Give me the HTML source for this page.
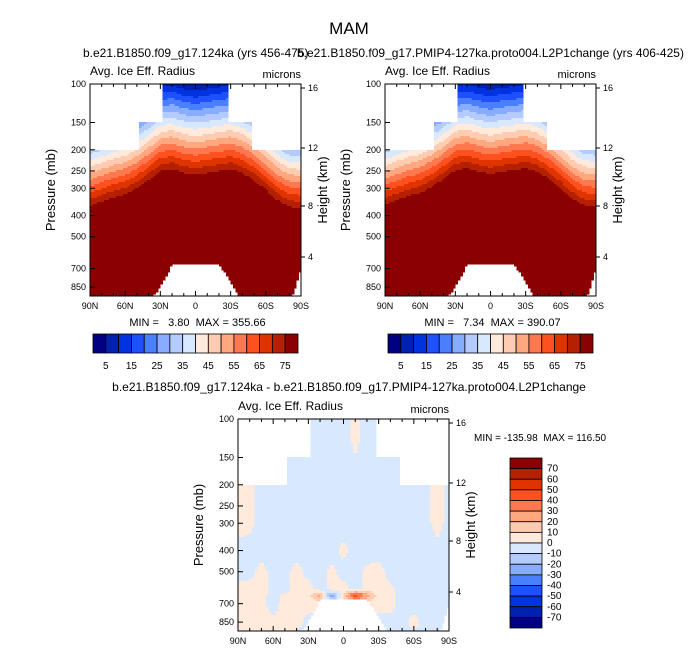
<!DOCTYPE html>
<html><head><meta charset="utf-8"><style>
body{margin:0;background:#fff}
svg{display:block;font-family:"Liberation Sans",Helvetica,sans-serif}
</style></head><body>
<svg id="s" width="699" height="653" viewBox="0 0 699 653" xmlns="http://www.w3.org/2000/svg">
<text x="349" y="34" font-size="17" text-anchor="middle">MAM</text>
<text x="83" y="57" font-size="12">b.e21.B1850.f09_g17.124ka (yrs 456-475)</text>
<text x="297" y="57" font-size="12">b.e21.B1850.f09_g17.PMIP4-127ka.proto004.L2P1change (yrs 406-425)</text>
<text x="349" y="391" font-size="12" text-anchor="middle">b.e21.B1850.f09_g17.124ka - b.e21.B1850.f09_g17.PMIP4-127ka.proto004.L2P1change</text>
<g id="g"></g>
</svg>
<script>
// ---- data ----
const lats = [90,80,70,60,50,40,30,20,10,0,-10,-20,-30,-40,-50,-60,-70,-80,-90];
const pTopA = [360,345,330,320,300,275,250,245,255,260,255,250,245,255,275,305,340,365,370];
const pTopB = [355,340,325,315,295,272,248,243,252,258,252,248,243,252,272,300,335,360,365];
const surfP = [1000,1000,1000,1000,1000,1000,840,665,665,665,665,665,800,1000,1000,1000,1000,1000,700];
const diffLevels = [100,200,300,400,500,600,640,700,850,1000];
const diffVals = [
 [-5,-5,-5,-5,-5,-5,-5,-5,-5,-5,5,-5,-5,-5,-5,-5,-5,-5,-5],
 [5,5,-5,-5,-5,-5,-5,-5,-5,-5,-5,-5,-5,-5,-5,-5,-5,5,-5],
 [5,3,-5,-5,-5,-5,-5,-5,-5,-5,-5,-5,-5,-5,-5,-5,-5,5,-5],
 [-5,-5,-5,-5,-5,-5,-5,-5,-5,3,-5,-5,-5,-5,-5,-5,-5,-5,-5],
 [-5,-5,5,-5,-5,5,-5,-5,3,-5,-5,3,5,-5,-5,-5,-5,-5,-5],
 [5,5,5,-5,-5,5,5,-5,5,5,-5,5,5,3,-5,-5,-5,-5,-5],
 [5,5,5,-5,3,5,5,25,-30,10,50,25,5,3,-5,-5,-5,-5,-5],
 [5,5,3,-5,5,5,5,5,5,5,5,5,5,5,-5,-5,-5,-5,-5],
 [5,5,5,3,5,5,-5,-5,-5,-5,-5,-5,-5,-5,-5,5,-5,-5,-5],
 [-5,5,5,5,-5,-5,-5,-5,-5,-5,-5,-5,-5,-5,-5,-5,-5,-5,-5]];
const cbLabels = [5,15,25,35,45,55,65,75];
const diffCbLabels = [70,60,50,40,30,20,10,0,-10,-20,-30,-40,-50,-60,-70];
const statsA = "MIN =   3.80  MAX = 355.66";
const statsB = "MIN =   7.34  MAX = 390.07";
const statsD = "MIN = -135.98  MAX = 116.50";
const pTicks = [100,150,200,250,300,400,500,700,850];
const latTicks = [90,60,30,0,-30,-60,-90];
const hTicks = [[16,'16'],[12,'12'],[8,'8'],[4,'4']];
// ---- styling ----
const cols = ['#000080','#0020b0','#0032e0','#1e50ff','#4a80ff','#88acff','#b4cbff','#d8e8ff','#ffeadb','#ffccb2','#ffa880','#ff7850','#ff5020','#e03400','#b42000','#8b0000'];
const NS='http://www.w3.org/2000/svg';
const G=document.getElementById('g');
function el(t,a,par){const e=document.createElementNS(NS,t);for(const k in a)e.setAttribute(k,a[k]);(par||G).appendChild(e);return e;}
const W=211,H=212,K=94.9;
function yOf(p,top){return top+(Math.log(p)-Math.log(100))*K;}
function pOf(y,top){return 100*Math.exp((y-top)/K);}
function xOf(lat,left){return left+(90-lat)*W/180;}
function interpLat(arr,lat){const f=(90-lat)/10;const i=Math.min(17,Math.floor(f));const t=f-i;return arr[i]*(1-t)+arr[i+1]*t;}
function maskP(lat){const a=Math.abs(lat);return a>47?200:(a>27?150:0);}
function diffAt(lat,p){
  let j=0;while(j<diffLevels.length-2&&p>diffLevels[j+1])j++;
  const t=Math.max(0,Math.min(1,(p-diffLevels[j])/(diffLevels[j+1]-diffLevels[j])));
  return interpLat(diffVals[j],lat)*(1-t)+interpLat(diffVals[j+1],lat)*t;}
function clampIdx(k){return Math.max(0,Math.min(15,k));}
function field(left,top,fn,name){
  const g=el('g',{'shape-rendering':'crispEdges'});
  
  
  const cw=W/90;
  for(let i=0;i<90;i++){
    const lat=89-2*i;let run=null,ry=0;
    const flush=(y)=>{if(run!==null){el('rect',{x:(left+i*cw).toFixed(2),y:ry,width:(cw+0.4).toFixed(2),height:y-ry+0.4,fill:cols[run]},g);}};
    for(let y=top;y<top+H;y+=2){
      const p=pOf(y+1,top);let c=null;
      if(p>=maskP(lat)&&p<=interpLat(surfP,lat))c=fn(lat,p);
      if(c!==run){flush(y);run=c;ry=y;}
    }
    flush(top+H);
  }
}
function axes(left,top){
  const fr=el('rect',{x:left,y:top,width:W,height:H,fill:'none',stroke:'#000','stroke-width':1});
  
  pTicks.forEach(p=>{const y=yOf(p,top);
    el('line',{x1:left,x2:left+5,y1:y,y2:y,stroke:'#000'});
    const t=el('text',{x:left-4,y:y+3,'font-size':9,'text-anchor':'end'});t.textContent=p;
    });
  latTicks.forEach(l=>{const x=xOf(l,left);
    el('line',{x1:x,x2:x,y1:top+H,y2:top+H-5,stroke:'#000'});
    el('line',{x1:x,x2:x,y1:top,y2:top+5,stroke:'#000'});
    const t=el('text',{x:x,y:top+H+13,'font-size':9,'text-anchor':'middle'});
    t.textContent=l===0?'0':(l>0?l+'N':(-l)+'S');
    });
  for(let l=80;l>-90;l-=10){if(l%30){const x=xOf(l,left);el('line',{x1:x,x2:x,y1:top+H,y2:top+H-3,stroke:'#000'});el('line',{x1:x,x2:x,y1:top,y2:top+3,stroke:'#000'});}}
  hTicks.forEach(h=>{const y=top+({16:4,12:64,8:122,4:173})[h[0]];
    el('line',{x1:left+W,x2:left+W+4,y1:y,y2:y,stroke:'#000'});
    const t=el('text',{x:left+W+7,y:y+3,'font-size':9});t.textContent=h[1];
    });
  let t=el('text',{x:left,y:top-9,'font-size':12});t.textContent='Avg. Ice Eff. Radius';
  
  t=el('text',{x:left+W,y:top-6,'font-size':11,'text-anchor':'end'});t.textContent='microns';
  
  t=el('text',{x:0,y:0,'font-size':13,'text-anchor':'middle',transform:`translate(${left-35},${top+H/2}) rotate(-90)`});t.textContent='Pressure (mb)';
  
  t=el('text',{x:0,y:0,'font-size':13,'text-anchor':'middle',transform:`translate(${left+W+26},${top+H/2}) rotate(-90)`});t.textContent='Height (km)';
  
}
function topPanel(left,top,pTop,stats,name){
  field(left,top,(lat,p)=>{const v=75+(Math.log(p)-Math.log(interpLat(pTop,lat)))/0.068*5;return clampIdx(Math.floor(v/5));},name);
  axes(left,top);
  let t=el('text',{x:left+W/2+2,y:top+H+30,'font-size':11,'text-anchor':'middle',style:'white-space:pre'});t.textContent=stats;
  
  const bx=left+3,by=334,bw=205/16;
  for(let k=0;k<16;k++){const r=el('rect',{x:bx+k*bw,y:by,width:bw,height:19,fill:cols[k],stroke:'#000','stroke-width':0.8});
    }
  cbLabels.forEach((v,i)=>{const t=el('text',{x:bx+(2*i+1)*bw,y:by+35,'font-size':10,'text-anchor':'middle'});t.textContent=v;
    });
}
topPanel(90,84,pTopA,statsA,'left-contour-field');
topPanel(385,84,pTopB,statsB,'right-contour-field');
field(238,419,(lat,p)=>clampIdx(Math.floor((diffAt(lat,p)+70)/10)+1),'diff-contour-field');
axes(238,419);
let t=el('text',{x:474,y:441,'font-size':10,style:'white-space:pre'});t.textContent=statsD;

const vh=170/16;
for(let k=0;k<16;k++){const r=el('rect',{x:510,y:458+k*vh,width:32,height:vh,fill:cols[15-k],stroke:'#000','stroke-width':0.8});
  }
diffCbLabels.forEach((v,i)=>{const t=el('text',{x:547,y:458+(i+1)*vh+3,'font-size':10});t.textContent=v;
  });
</script>
</body></html>
